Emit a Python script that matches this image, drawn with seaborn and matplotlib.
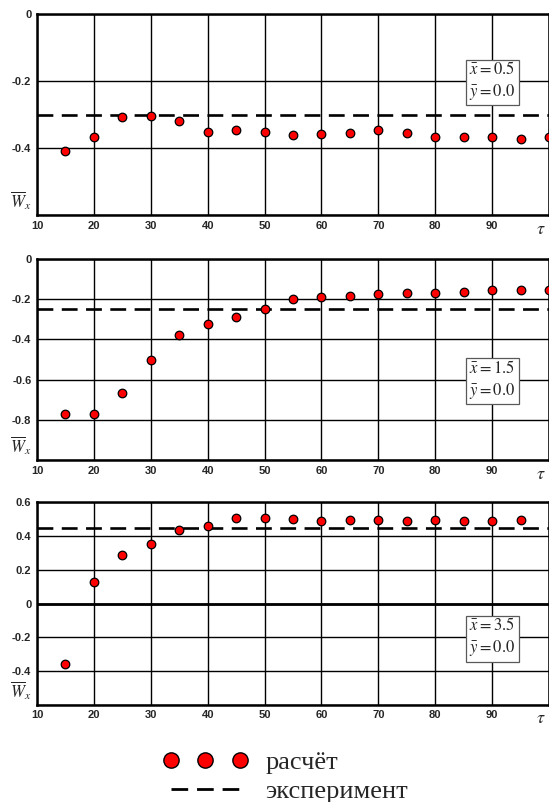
import matplotlib
matplotlib.use("Agg")
import matplotlib.pyplot as plt
from matplotlib.lines import Line2D
import seaborn as sns
import pandas as pd

sns.set_style("white")
plt.rcParams["font.family"] = ["Liberation Sans", "DejaVu Sans"]
plt.rcParams["mathtext.fontset"] = "stix"

tau = [15, 20, 25, 30, 35, 40, 45, 50, 55, 60, 65, 70, 75, 80, 85, 90, 95, 100]
calc1 = [-0.408, -0.366, -0.307, -0.304, -0.318, -0.353, -0.345, -0.351, -0.360,
         -0.358, -0.354, -0.346, -0.354, -0.366, -0.368, -0.366, -0.373, -0.366]
calc2 = [-0.771, -0.771, -0.667, -0.502, -0.376, -0.322, -0.287, -0.250, -0.201,
         -0.191, -0.184, -0.176, -0.168, -0.168, -0.164, -0.156, -0.156, -0.156]
tau3 = [15, 20, 25, 30, 35, 40, 45, 50, 55, 60, 65, 70, 75, 80, 85, 90, 95]
calc3 = [-0.361, 0.125, 0.285, 0.350, 0.437, 0.459, 0.507, 0.507, 0.501,
         0.491, 0.493, 0.493, 0.487, 0.497, 0.491, 0.489, 0.497]
exp_vals = [-0.30, -0.25, 0.45]
x_pos = ["0.5", "1.5", "3.5"]
y_pos = ["0.0", "0.0", "0.0"]
ylims = [(-0.6, 0.0), (-1.0, 0.0), (-0.6, 0.6)]
xticks = [10, 20, 30, 40, 50, 60, 70, 80, 90, 100]
legend_labels = ["расчёт", "эксперимент"]

fig = plt.figure(figsize=(5.49, 8.02), dpi=100)
rects = [
    [37/549, (802-215)/802, 1 - 37/549, 201/802],
    [37/549, (802-460)/802, 1 - 37/549, 201/802],
    [37/549, (802-704.7)/802, 1 - 37/549, 202.4/802],
]
box_y = [-0.2, -0.6, -0.2]
series = [(tau, calc1), (tau, calc2), (tau3, calc3)]

for i, (rect, (tx, cy)) in enumerate(zip(rects, series)):
    ax = fig.add_axes(rect)
    df = pd.DataFrame({"tau": tx, "W": cy})
    ax.axhline(exp_vals[i], color="black", lw=1.9, ls=(0, (6, 3.2)), zorder=3)
    sns.scatterplot(data=df, x="tau", y="W", ax=ax, s=38, color="red",
                    edgecolor="black", linewidth=0.9, zorder=4, clip_on=False)
    lo, hi = ylims[i]
    ax.set_xlim(10, 100)
    ax.set_ylim(lo, hi)
    yt = [round(lo + 0.2 * k, 1) for k in range(int(round((hi - lo) / 0.2)) + 1)]
    ax.set_yticks(yt)
    ylabels = [("0" if abs(v) < 1e-9 else f"{v:.1f}") for v in yt]
    ylabels[0] = ""
    ax.set_yticklabels(ylabels, fontsize=8, fontweight="bold")
    ax.set_xticks(xticks)
    xl = [str(v) for v in xticks[:-1]] + [""]
    ax.set_xticklabels(xl, fontsize=8, fontweight="bold")
    ax.tick_params(axis="both", length=0, pad=4)
    ax.grid(True, color="black", lw=1.0)
    if lo < 0 < hi:
        ax.axhline(0, color="black", lw=2.0, zorder=2)
    for sp in ax.spines.values():
        sp.set_color("black")
        sp.set_linewidth(1.8)
    ax.set_xlabel("")
    ax.set_ylabel("")
    ax.text(-0.012, 0.07, r"$\overline{W}_{x}$", transform=ax.transAxes,
            ha="right", va="center", fontsize=12)
    ax.text(0.985, -0.07, r"$\tau$", transform=ax.transAxes,
            ha="center", va="center", fontsize=13)
    ax.text(90, box_y[i], r"$\bar{x} = " + x_pos[i] + "$\n" + r"$\bar{y} = " + y_pos[i] + "$",
            ha="center", va="center", fontsize=12, linespacing=1.35, zorder=5,
            bbox=dict(boxstyle="square,pad=0.2", fc="white", ec="0.35", lw=0.9))

handles = [
    Line2D([], [], ls="none", marker="o", ms=11, mfc="red", mec="black", mew=1.0),
    Line2D([], [], ls=(0, (6, 3.2)), color="black", lw=2.0),
]
fig.legend(handles, legend_labels, numpoints=3, frameon=False,
           loc="center left", bbox_to_anchor=(163/549, (802-777)/802),
           prop={"family": "Liberation Serif", "size": 19},
           handlelength=3.2, handletextpad=0.68, labelspacing=0.2, borderpad=0,
           borderaxespad=0)

fig.savefig("out.png", dpi=100)
